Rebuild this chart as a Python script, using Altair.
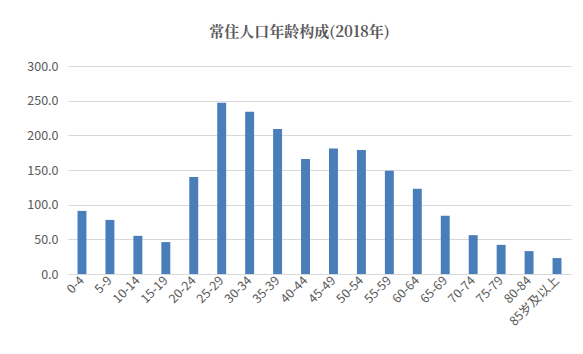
import altair as alt
import pandas as pd

ages = ["0-4", "5-9", "10-14", "15-19", "20-24", "25-29", "30-34", "35-39", "40-44",
        "45-49", "50-54", "55-59", "60-64", "65-69", "70-74", "75-79", "80-84", "85岁及以上"]
values = [91, 78, 55, 46, 140, 247, 234, 209, 166, 181, 179, 149, 123, 84, 56, 42, 33, 23]
y_ticks = [0, 50, 100, 150, 200, 250, 300]

df = pd.DataFrame({"age": ages, "value": values})

font = "Noto Sans CJK SC"
grey = "#595959"

chart = alt.Chart(df).mark_bar(color="#4A7EBB").encode(
    x=alt.X("age:N", sort=ages, title=None,
            scale=alt.Scale(paddingInner=0.68, paddingOuter=0.34),
            axis=alt.Axis(labelAngle=-45, labelFontSize=12.5, labelColor=grey, labelFont=font,
                          ticks=False, domainColor="#D9D9D9", labelPadding=4,
                          labelAlign="right", labelBaseline="middle")),
    y=alt.Y("value:Q", title=None,
            scale=alt.Scale(domain=[0, 300]),
            axis=alt.Axis(values=y_ticks, format=".1f", labelFontSize=12.5, labelColor=grey,
                          labelFont=font, ticks=False, domain=False, gridColor="#D9D9D9",
                          labelPadding=10)),
).properties(
    width=503, height=208,
    background="white",
    title=alt.TitleParams("常住人口年龄构成(2018年)", fontSize=15, font="Noto Serif CJK SC, " + font,
                          fontWeight="bold", color=grey, anchor="middle", dx=-20, offset=20),
    autosize=alt.AutoSizeParams(type="none"),
    padding={"left": 68, "top": 66, "right": 12, "bottom": 80},
).configure_view(stroke=None)

chart.save("out.html", embed_options={"renderer": "svg", "actions": False})
